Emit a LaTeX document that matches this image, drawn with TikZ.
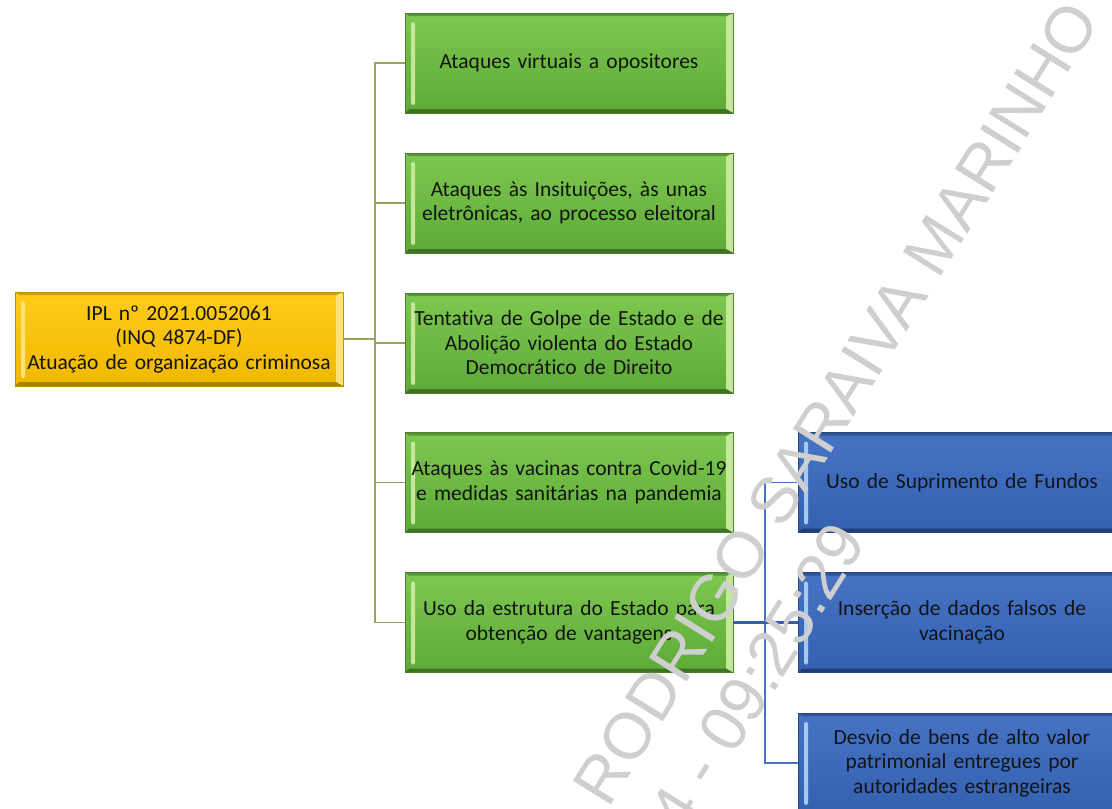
\documentclass[tikz,border=0pt]{standalone}
\usepackage{fontspec}
\setmainfont[Ligatures={NoCommon}]{Carlito}
\newfontfamily\wmfont{Liberation Sans}
\definecolor{gtop}{HTML}{7CC850}
\definecolor{gbot}{HTML}{5EAA38}
\definecolor{glight}{HTML}{C4E79A}
\definecolor{gdark}{HTML}{3F7424}
\definecolor{gborder}{HTML}{4A7F2E}
\definecolor{ytop}{HTML}{FFCC1A}
\definecolor{ybot}{HTML}{F0B800}
\definecolor{ylight}{HTML}{FFE27A}
\definecolor{ydark}{HTML}{A88400}
\definecolor{yborder}{HTML}{B89200}
\definecolor{btop}{HTML}{4673C4}
\definecolor{bbot}{HTML}{3460B0}
\definecolor{blight}{HTML}{A9C8EE}
\definecolor{bdark}{HTML}{1E3E78}
\definecolor{bborder}{HTML}{24457F}
\definecolor{gline}{HTML}{93A85C}
\definecolor{bline}{HTML}{4A74BF}
\definecolor{blinedark}{HTML}{3560A8}
\definecolor{wmgray}{HTML}{CFCFCF}
\definecolor{txt}{HTML}{141414}
\tikzset{
  bevelbox/.style n args={6}{rectangle, inner sep=0pt, align=center,
    text=txt, font=\fontsize{21.5}{24.5}\selectfont,
    top color=#1, bottom color=#2, draw=#6, line width=0.8pt,
    path picture={
      % right bevel
      \fill[#3] (path picture bounding box.north east) -- (path picture bounding box.south east)
        -- ([shift={(-7pt,4pt)}]path picture bounding box.south east)
        -- ([shift={(-7pt,-4pt)}]path picture bounding box.north east) -- cycle;
      % bottom bevel
      \fill[#4] (path picture bounding box.south west) -- (path picture bounding box.south east)
        -- ([shift={(-7pt,4pt)}]path picture bounding box.south east)
        -- ([shift={(4pt,4pt)}]path picture bounding box.south west) -- cycle;
      % top thin bevel
      \fill[#4!60!#1] (path picture bounding box.north west) -- (path picture bounding box.north east)
        -- ([shift={(-7pt,-3pt)}]path picture bounding box.north east)
        -- ([shift={(4pt,-3pt)}]path picture bounding box.north west) -- cycle;
      % left highlight
      \fill[#5, rounded corners=2pt] ([shift={(6pt,-9pt)}]path picture bounding box.north west)
        rectangle ([shift={(10pt,8pt)}]path picture bounding box.south west);
    }},
  gbox/.style={bevelbox={gtop}{gbot}{glight}{gdark}{glight}{gborder},
    minimum width=328pt, minimum height=100pt, text width=326pt},
  ybox/.style={bevelbox={ytop}{ybot}{ylight}{ydark}{ylight}{yborder},
    minimum width=328pt, minimum height=94pt, text width=326pt},
  bbox/.style={bevelbox={btop}{bbot}{blight}{bdark}{blight}{bborder},
    minimum width=328pt, minimum height=100pt, text width=326pt},
  glink/.style={draw=gline, line width=1.5pt},
  blink/.style={draw=bline, line width=1.4pt},
  blinkmain/.style={draw=blinedark, line width=2.8pt},
  wm/.style={text=wmgray, inner sep=0pt, font=\wmfont\fontsize{65}{78}\selectfont}
}
\begin{document}
\begin{tikzpicture}[x=1pt,y=-1pt]
\useasboundingbox[fill=white] (0,0) rectangle (1112,809);
\begin{scope}
\clip (0,0) rectangle (1112,809);
% root
\node[ybox] (root) at (179,339) {IPL nº 2021.0052061\\(INQ 4874-DF)\\Atuação de organização criminosa};
% green column
\node[gbox] (g1) at (569,63) {Ataques virtuais a opositores};
\node[gbox] (g2) at (569,203) {Ataques às Insituições, às unas\\eletrônicas, ao processo eleitoral};
\node[gbox] (g3) at (569,343) {Tentativa de Golpe de Estado e de\\Abolição violenta do Estado\\Democrático de Direito};
\node[gbox] (g4) at (569,482.5) {Ataques às vacinas contra Covid-19\\e medidas sanitárias na pandemia};
\node[gbox] (g5) at (569,622.5) {Uso da estrutura do Estado para\\obtenção de vantagens};
% blue column
\node[bbox] (b1) at (962,482.5) {Uso de Suprimento de Fundos};
\node[bbox] (b2) at (962,622.5) {Inserção de dados falsos de\\vacinação};
\node[bbox] (b3) at (962,763) {Desvio de bens de alto valor\\patrimonial entregues por\\autoridades estrangeiras};
% trunks
\coordinate (gt) at (375,63);
\coordinate (bt) at (765,482.5);
\draw[glink] (g1.west) -- (g1.west -| gt) -- (g5.west -| gt) -- (g5.west);
\draw[glink] (g2.west) -- (g2.west -| gt);
\draw[glink] (g3.west) -- (g3.west -| gt);
\draw[glink] (g4.west) -- (g4.west -| gt);
\draw[glink] (root.east) -- (root.east -| gt);
\draw[blink] (b1.west) -- (b1.west -| bt) -- (b3.west -| bt) -- (b3.west);
\draw[blinkmain] (g5.east) -- (b2.west);
% watermark
\node[wm, rotate=58] (wm1) at (836,403) {RODRIGO SARAIVA MARINHO};
\node[wm, rotate=58, anchor=east] (wm2) at (849,530) {4 - 09:25:29};
\end{scope}
\end{tikzpicture}
\end{document}
